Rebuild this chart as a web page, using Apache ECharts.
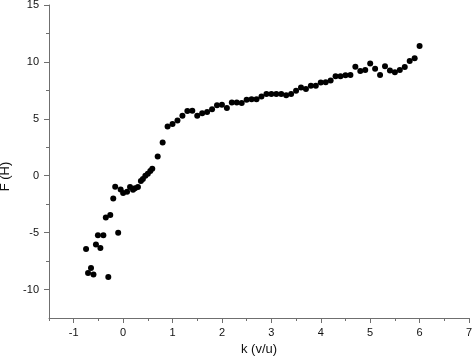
<!DOCTYPE html>
<html>
<head>
<meta charset="utf-8">
<script src="https://cdn.jsdelivr.net/npm/echarts@6/dist/echarts.min.js"></script>
<style>
html,body{margin:0;padding:0;background:#fff;}
#chart{width:473px;height:364px;}
</style>
</head>
<body>
<div id="chart"></div>
<script>
//横轴 k (v/u)
var kValues = [-0.75, -0.71, -0.65, -0.60, -0.55, -0.51, -0.46, -0.40, -0.35, -0.30,
	-0.26, -0.20, -0.16, -0.10, -0.05, 0.00, 0.08, 0.14, 0.20, 0.24,
	0.30, 0.36, 0.40, 0.45, 0.50, 0.55, 0.59,
	0.70, 0.80, 0.90, 1.00, 1.10, 1.20, 1.30, 1.40, 1.50, 1.60,
	1.70, 1.80, 1.90, 2.00, 2.10, 2.20, 2.30, 2.40, 2.50, 2.60,
	2.70, 2.80, 2.90, 3.00, 3.10, 3.20, 3.30, 3.40, 3.50, 3.60,
	3.70, 3.80, 3.90, 4.00, 4.10, 4.20, 4.30, 4.40, 4.50, 4.60,
	4.70, 4.80, 4.90, 5.00, 5.10, 5.20, 5.30, 5.40, 5.50, 5.60,
	5.70, 5.80, 5.90, 6.00];
//纵轴 F (H)
var fValues = [-6.43, -8.54, -8.10, -8.68, -6.05, -5.24, -6.34, -5.24, -3.68, -8.89,
	-3.45, -1.99, -0.96, -5.00, -1.20, -1.52, -1.40, -0.99, -1.23, -1.11,
	-0.99, -0.46, -0.29, 0.00, 0.18, 0.41, 0.61,
	1.69, 2.92, 4.32, 4.54, 4.85, 5.26, 5.68, 5.70, 5.26, 5.50,
	5.61, 5.85, 6.20, 6.23, 5.96, 6.43, 6.43, 6.40, 6.67, 6.73,
	6.73, 6.96, 7.17, 7.19, 7.19, 7.17, 7.06, 7.19, 7.46, 7.76,
	7.63, 7.91, 7.91, 8.20, 8.22, 8.36, 8.73, 8.73, 8.82, 8.86,
	9.58, 9.21, 9.30, 9.85, 9.39, 8.86, 9.61, 9.24, 9.10, 9.28,
	9.56, 10.07, 10.33, 11.40];
//刻度
var xMajorTicks = [-1, 0, 1, 2, 3, 4, 5, 6, 7];
var xMinorTicks = [-1.5, -0.5, 0.5, 1.5, 2.5, 3.5, 4.5, 5.5, 6.5];
var yMajorTicks = [-10, -5, 0, 5, 10, 15];
var yMinorTicks = [-7.5, -2.5, 2.5, 7.5, 12.5];

var points = [];
for (var i = 0; i < kValues.length; i++) {
	points.push([kValues[i], fValues[i]]);
}

var fontName = "'Liberation Sans', Arial, sans-serif";
var lineColor = '#6f6f6f';

var chart = echarts.init(document.getElementById('chart'));
var option = {
	animation: false,
	backgroundColor: '#fff',
	grid: {
		left: 49,
		right: 4,
		top: 5,
		bottom: 46,
		containLabel: false,
		outerBoundsMode: 'none'
	},
	xAxis: [{
		type: 'value',
		min: -1.5,
		max: 7,
		name: 'k (v/u)',
		nameLocation: 'middle',
		nameGap: 21,
		nameTextStyle: {color: '#111', fontSize: 13, fontFamily: fontName},
		axisLine: {onZero: false, lineStyle: {color: lineColor, width: 1}},
		axisTick: {customValues: xMajorTicks, length: 5, lineStyle: {color: lineColor}},
		axisLabel: {customValues: xMajorTicks, margin: 9, color: '#111', fontSize: 11, fontFamily: fontName},
		splitLine: {show: false}
	}, {
		type: 'value',
		min: -1.5,
		max: 7,
		position: 'bottom',
		axisLine: {show: false, onZero: false},
		axisTick: {customValues: xMinorTicks, length: 3, lineStyle: {color: lineColor}},
		axisLabel: {show: false},
		splitLine: {show: false}
	}],
	yAxis: [{
		type: 'value',
		min: -12.5,
		max: 15,
		name: 'F (H)',
		nameLocation: 'middle',
		nameGap: 36,
		nameTextStyle: {color: '#111', fontSize: 13, fontFamily: fontName, padding: [0, 30, 0, 0]},
		axisLine: {onZero: false, lineStyle: {color: lineColor, width: 1}},
		axisTick: {customValues: yMajorTicks, length: 5, lineStyle: {color: lineColor}},
		axisLabel: {customValues: yMajorTicks, margin: 10, color: '#111', fontSize: 11, fontFamily: fontName},
		splitLine: {show: false}
	}, {
		type: 'value',
		min: -12.5,
		max: 15,
		position: 'left',
		axisLine: {show: false, onZero: false},
		axisTick: {customValues: yMinorTicks, length: 3, lineStyle: {color: lineColor}},
		axisLabel: {show: false},
		splitLine: {show: false}
	}],
	series: [{
		type: 'scatter',
		xAxisIndex: 0,
		yAxisIndex: 0,
		symbol: 'circle',
		symbolSize: 6,
		itemStyle: {color: '#000', opacity: 1},
		data: points
	}]
};
chart.setOption(option);
</script>
</body>
</html>
